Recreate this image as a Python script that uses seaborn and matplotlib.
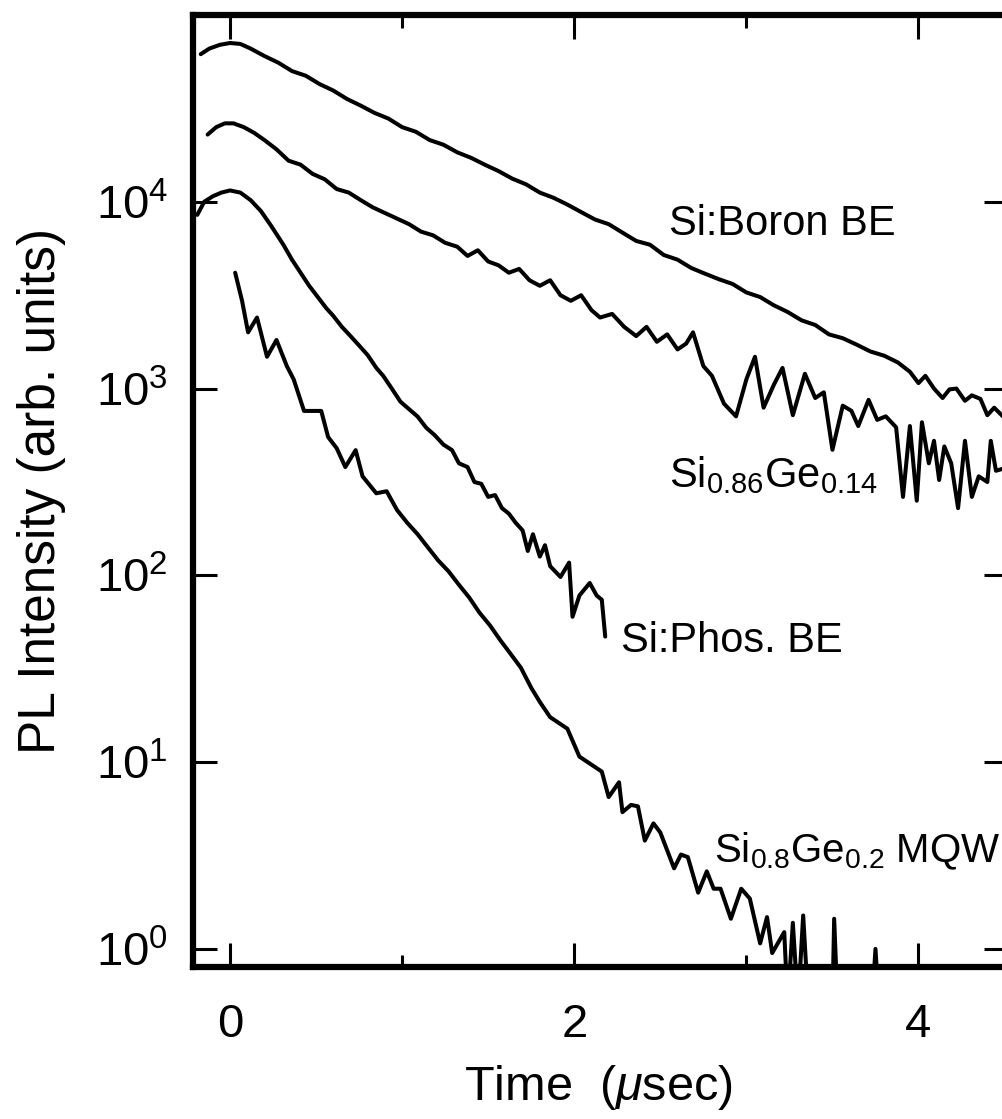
import matplotlib
matplotlib.use("Agg")
import matplotlib.pyplot as plt
import numpy as np
import pandas as pd
import seaborn as sns
from matplotlib import font_manager
from matplotlib.ticker import FixedLocator, NullLocator, FixedFormatter, LogFormatterSciNotation

# ---------------- data ----------------
boron_t = [-0.17, -0.12, -0.06, 0.00, 0.06, 0.12, 0.20, 0.28, 0.36, 0.44, 0.52, 0.60, 0.68, 0.76,
           0.84, 0.92, 1.00, 1.08, 1.16, 1.24, 1.32, 1.40, 1.48, 1.56, 1.64, 1.72, 1.80, 1.88,
           1.96, 2.04, 2.12, 2.20, 2.28, 2.36, 2.44, 2.52, 2.60, 2.68, 2.76, 2.84, 2.92, 3.00,
           3.08, 3.16, 3.24, 3.32, 3.40, 3.48, 3.56, 3.64, 3.72, 3.80, 3.88, 3.95, 4.00, 4.04,
           4.09, 4.14, 4.18, 4.22, 4.27, 4.31, 4.36, 4.40, 4.44, 4.49]
boron_I = [61700, 66100, 69200, 70800, 70000, 66100, 60300, 55600, 50100, 47300, 42700, 39400,
           35500, 32700, 29900, 27900, 25100, 23700, 21400, 20200, 18400, 17200, 15800, 14600,
           13300, 12400, 11200, 10500, 9660, 8810, 8040, 7590, 6840, 6170, 5890, 5190, 4900,
           4420, 4120, 3850, 3630, 3270, 3090, 2790, 2570, 2320, 2190, 1950, 1860, 1720, 1580,
           1500, 1380, 1230, 1070, 1170, 1000, 890, 990, 1000, 860, 920, 880, 720, 790, 710]

sige14_t = [-0.13, -0.08, -0.03, 0.02, 0.08, 0.14, 0.20, 0.27, 0.34, 0.41, 0.48, 0.55, 0.62, 0.69,
            0.76, 0.83, 0.90, 0.97, 1.04, 1.11, 1.18, 1.25, 1.32, 1.38, 1.44, 1.50, 1.56, 1.62,
            1.68, 1.74, 1.80, 1.86, 1.92, 1.98, 2.04, 2.10, 2.15, 2.22, 2.29, 2.36, 2.42, 2.48,
            2.54, 2.60, 2.65, 2.69, 2.75, 2.80, 2.87, 2.94, 3.00, 3.05, 3.10, 3.16, 3.21, 3.27,
            3.34, 3.40, 3.45, 3.50, 3.56, 3.61, 3.65, 3.71, 3.76, 3.81, 3.87, 3.91, 3.95, 3.99,
            4.02, 4.06, 4.09, 4.12, 4.15, 4.19, 4.23, 4.27, 4.31, 4.35, 4.40, 4.42, 4.45, 4.49]
sige14_I = [22900, 25100, 26300, 26300, 25100, 23400, 21400, 19100, 16600, 15800, 14100, 13200,
            11700, 11200, 10200, 9330, 8710, 8130, 7590, 6920, 6610, 6030, 5750, 5130, 5500,
            4790, 4570, 4170, 4370, 3800, 3550, 3800, 3160, 2950, 3160, 2630, 2400, 2510, 2140,
            1910, 2140, 1780, 1950, 1620, 1740, 2000, 1320, 1170, 830, 710, 1120, 1480, 790,
            1050, 1290, 720, 1200, 890, 955, 470, 810, 760, 630, 870, 680, 710, 620, 263, 630,
            251, 660, 398, 525, 324, 490, 398, 229, 525, 263, 339, 316, 525, 363, 372]

phos_t = [-0.19, -0.15, -0.10, -0.05, 0.00, 0.06, 0.12, 0.18, 0.24, 0.31, 0.36, 0.41, 0.46, 0.51,
          0.56, 0.60, 0.65, 0.70, 0.75, 0.80, 0.85, 0.89, 0.94, 0.99, 1.04, 1.09, 1.14, 1.19,
          1.24, 1.29, 1.33, 1.38, 1.42, 1.46, 1.50, 1.54, 1.58, 1.62, 1.66, 1.70, 1.73, 1.76,
          1.80, 1.83, 1.86, 1.92, 1.97, 1.99, 2.03, 2.09, 2.13, 2.16, 2.18]
phos_I = [8510, 10000, 10700, 11200, 11500, 11200, 10200, 8910, 7410, 5890, 4900, 4170, 3550,
          3090, 2690, 2450, 2140, 1910, 1700, 1510, 1290, 1170, 1000, 851, 776, 708, 617, 562,
          501, 468, 398, 380, 316, 309, 263, 269, 229, 214, 191, 174, 135, 166, 126, 145, 112,
          98, 117, 60, 78, 91, 78, 74, 47]

mqw_t = [0.03, 0.07, 0.105, 0.157, 0.215, 0.27, 0.33, 0.37, 0.43, 0.53, 0.57, 0.62, 0.67, 0.73,
         0.77, 0.85, 0.91, 0.97, 1.03, 1.09, 1.15, 1.21, 1.27, 1.33, 1.39, 1.45, 1.51, 1.57,
         1.63, 1.69, 1.75, 1.80, 1.86, 1.96, 2.03, 2.16, 2.20, 2.26, 2.28, 2.33, 2.37, 2.41,
         2.46, 2.50, 2.58, 2.62, 2.66, 2.72, 2.77, 2.81, 2.85, 2.91, 2.97, 3.02, 3.08, 3.12,
         3.15, 3.22, 3.24, 3.27, 3.30, 3.33, 3.36, 3.50, 3.51, 3.53, 3.73, 3.75, 3.77, 4.49]
mqw_I = [4170, 2950, 2000, 2400, 1480, 1820, 1320, 1120, 759, 759, 550, 479, 380, 468, 339, 275,
         282, 224, 191, 166, 141, 120, 105, 89, 76, 63, 54, 45, 38, 32, 25, 21, 17.4, 15.1, 10.7,
         8.9, 6.5, 7.8, 5.4, 5.9, 5.8, 3.8, 4.7, 4.2, 2.7, 3.2, 3.1, 2.0, 2.6, 2.1, 2.1, 1.45,
         2.1, 1.86, 1.07, 1.48, 0.95, 1.23, 0.5, 1.38, 0.5, 1.51, 0.5, 0.5, 1.45, 0.5, 0.5, 1.0,
         0.5, 0.5]

y_ticks = [1, 10, 100, 1000, 10000]
x_major = [0, 2, 4]
x_minor = [1, 3]
x_tick_labels = ["0", "2", "4"]

labels = ["Si:Boron BE", r"Si$_{0.86}$Ge$_{0.14}$", "Si:Phos. BE", r"Si$_{0.8}$Ge$_{0.2}$ MQW"]
label_t = [2.55, 2.55, 2.27, 2.81]
label_I = [6600, 295, 39, 2.92]
label_size = [30, 30, 30, 29]

# ---------------- style ----------------
sns.set_theme(style="ticks")
avail = {f.name for f in font_manager.fontManager.ttflist}
fam = "Liberation Sans Narrow" if "Liberation Sans Narrow" in avail else "Liberation Sans"
plt.rcParams["font.family"] = [fam, "DejaVu Sans"]
plt.rcParams["mathtext.fontset"] = "custom"
plt.rcParams["mathtext.rm"] = fam
plt.rcParams["mathtext.it"] = fam + ":italic"
plt.rcParams["mathtext.bf"] = fam + ":bold"
plt.rcParams["mathtext.sf"] = fam
plt.rcParams["mathtext.default"] = "regular"

W, H = 1003, 1119
fig = plt.figure(figsize=(W / 100, H / 100), dpi=100)
ax_left, ax_right, ax_top, ax_bottom = 193, 1008, 15, 967
ax = fig.add_axes([ax_left / W, (H - ax_bottom) / H,
                   (ax_right - ax_left) / W, (ax_bottom - ax_top) / H])

series = [(boron_t, boron_I), (sige14_t, sige14_I), (phos_t, phos_I), (mqw_t, mqw_I)]
for t, I in series:
    d = pd.DataFrame({"t": t, "I": I})
    sns.lineplot(data=d, x="t", y="I", sort=False, estimator=None, color="black",
                 linewidth=2.9, ax=ax)

ax.set_yscale("log")
ax.set_xlim(-0.215, 4.52)
ax.set_ylim(0.8, 1e5)

ax.yaxis.set_major_locator(FixedLocator(y_ticks))
ax.yaxis.set_major_formatter(LogFormatterSciNotation())
ax.yaxis.set_minor_locator(NullLocator())
ax.xaxis.set_major_locator(FixedLocator(x_major))
ax.xaxis.set_major_formatter(FixedFormatter(x_tick_labels))
ax.xaxis.set_minor_locator(FixedLocator(x_minor))

ax.tick_params(which="major", direction="in", top=True, right=True, length=17, width=2.2,
               color="black", labelsize=34, labelcolor="black")
ax.tick_params(axis="y", which="major", pad=18)
ax.tick_params(axis="x", which="major", pad=26)
ax.tick_params(which="minor", direction="in", top=True, right=True, length=9, width=2.2,
               color="black")

for s in ax.spines.values():
    s.set_linewidth(4.5)
    s.set_color("black")

ax.set_xlabel(r"Time  ($\mathit{μ}$sec)", fontsize=35, color="black")
ax.set_ylabel("PL Intensity (arb. units)", fontsize=37, color="black")
ax.xaxis.set_label_coords((598 - ax_left) / (ax_right - ax_left), (ax_bottom - 1087) / (ax_bottom - ax_top))
ax.xaxis.label.set_va("center")
ax.yaxis.set_label_coords((42 - ax_left) / (ax_right - ax_left), 0.5)
ax.yaxis.label.set_va("center")

for txt, tx, ty, fs in zip(labels, label_t, label_I, label_size):
    ax.text(tx, ty, txt, fontsize=fs, color="black", ha="left", va="baseline")

ax.set_facecolor("white")
fig.patch.set_facecolor("white")
fig.savefig("out.png", dpi=100)
